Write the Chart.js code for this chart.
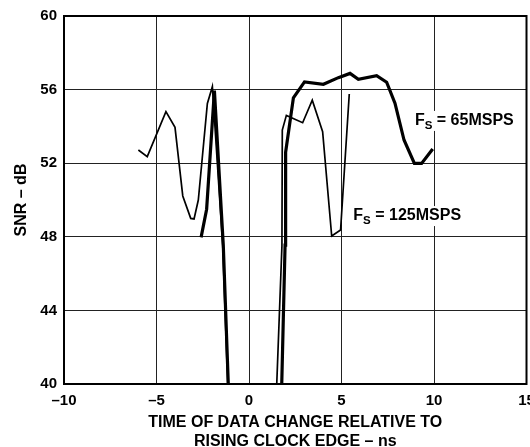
<!DOCTYPE html>
<html>
<head>
<meta charset="utf-8">
<script src="https://cdn.jsdelivr.net/npm/chart.js@4/dist/chart.umd.min.js"></script>
<style>
html, body { margin:0; padding:0; overflow:hidden; background:#fff; width:530px; height:447px; }
#wrap { position:absolute; left:0; top:0; width:560px; height:447px; }
</style>
</head>
<body>
<div id="wrap"><canvas id="c" width="560" height="447"></canvas></div>
<script>
// ---- data ----
const fs65X = [-2.59, -2.29, -1.87, -1.39, -1.12, null, 1.77, 1.95, 1.98, 2.40, 3.00, 4.02, 4.83, 5.46, 5.91, 6.90, 7.44, 7.89, 8.38, 8.94, 9.33, 9.93];
const fs65Y = [47.97, 49.50, 55.95, 47.55, 40.00, null, 40.00, 47.55, 52.60, 55.55, 56.42, 56.29, 56.65, 56.88, 56.56, 56.76, 56.40, 55.26, 53.26, 51.99, 51.99, 52.77];
const fs125X = [-5.98, -5.50, -4.49, -4.00, -3.58, -3.15, -2.97, -2.74, -2.25, -1.98, -1.42, -1.15, null, 1.50, 1.78, 1.80, 2.02, 2.90, 3.42, 3.98, 4.47, 4.95, 5.42];
const fs125Y = [52.72, 52.36, 54.80, 53.95, 50.22, 49.00, 48.97, 50.00, 55.25, 56.16, 47.50, 40.00, null, 40.00, 47.50, 53.80, 54.60, 54.20, 55.42, 53.71, 48.04, 48.37, 55.76];
const xTicks = [-10, -5, 0, 5, 10, 15];
const yTicks = [40, 44, 48, 52, 56, 60];
const seriesNames = ['65MSPS', '125MSPS'];
const labelAnchors = [[8.97, 54.08], [5.64, 48.91]];
const xTitle = ['TIME OF DATA CHANGE RELATIVE TO', 'RISING CLOCK EDGE \u2013 ns'];
const yTitle = 'SNR \u2013 dB';

function pts(xs, ys) {
  return xs.map((x, i) => (x === null ? {x: NaN, y: null} : {x: x, y: ys[i]}));
}

const FONT = '"Liberation Sans", Arial, Helvetica, sans-serif';

const annot = {
  id: 'annot',
  afterDatasetsDraw(chart) {
    const ctx = chart.ctx, xs = chart.scales.x, ys = chart.scales.y;
    ctx.save();
    seriesNames.forEach((name, i) => {
      const px = xs.getPixelForValue(labelAnchors[i][0]);
      const py = ys.getPixelForValue(labelAnchors[i][1]);
      ctx.textBaseline = 'alphabetic';
      ctx.font = 'bold 16px ' + FONT;
      const wF = ctx.measureText('F').width;
      ctx.font = 'bold 11.5px ' + FONT;
      const wS = ctx.measureText('S').width;
      ctx.font = 'bold 16px ' + FONT;
      const rest = ' = ' + name;
      const wR = ctx.measureText(rest).width;
      ctx.fillStyle = '#fff';
      ctx.fillRect(px - 2, py - 14, wF + wS + wR + 4, 20);
      ctx.fillStyle = '#000';
      ctx.fillText('F', px, py);
      ctx.font = 'bold 11.5px ' + FONT;
      ctx.fillText('S', px + wF, py + 4);
      ctx.font = 'bold 16px ' + FONT;
      ctx.fillText(rest, px + wF + wS, py);
    });
    ctx.restore();
  },
  afterDraw(chart) {
    const a = chart.chartArea, ctx = chart.ctx;
    ctx.save();
    ctx.strokeStyle = '#000';
    ctx.lineWidth = 2;
    ctx.strokeRect(a.left, a.top, a.right - a.left, a.bottom - a.top);
    ctx.restore();
  }
};

new Chart(document.getElementById('c'), {
  type: 'line',
  data: {
    datasets: [
      { label: 'FS = 65MSPS', data: pts(fs65X, fs65Y), borderColor: '#000', borderWidth: 3.2, pointRadius: 0, tension: 0, spanGaps: false, fill: false },
      { label: 'FS = 125MSPS', data: pts(fs125X, fs125Y), borderColor: '#000', borderWidth: 1.7, pointRadius: 0, tension: 0, spanGaps: false, fill: false }
    ]
  },
  options: {
    responsive: false,
    animation: false,
    events: [],
    layout: { padding: { top: 16, right: 33.5, left: 0, bottom: 0 } },
    plugins: { legend: { display: false }, tooltip: { enabled: false } },
    scales: {
      x: {
        type: 'linear', min: xTicks[0], max: xTicks[xTicks.length - 1],
        afterFit(s) { s.height = 63; },
        afterBuildTicks(s) { s.ticks = xTicks.map(v => ({ value: v })); },
        grid: { color: '#222', lineWidth: 1, drawTicks: false },
        border: { display: true, color: '#000', width: 2 },
        ticks: { color: '#000', padding: 8, maxRotation: 0, autoSkip: false,
          font: { family: FONT, size: 15, weight: 'bold' },
          callback: v => String(v).replace('-', '\u2013') },
        title: { display: true, text: xTitle, color: '#000',
          font: { family: FONT, size: 16, weight: 'bold', lineHeight: '19px' },
          padding: { top: 0, bottom: -4 } }
      },
      y: {
        type: 'linear', min: yTicks[0], max: yTicks[yTicks.length - 1],
        afterFit(s) { s.width = 64; },
        afterBuildTicks(s) { s.ticks = yTicks.map(v => ({ value: v })); },
        grid: { color: '#222', lineWidth: 1, drawTicks: false },
        border: { display: true, color: '#000', width: 2 },
        ticks: { color: '#000', padding: 7, autoSkip: false,
          font: { family: FONT, size: 15, weight: 'bold' } },
        title: { display: true, text: yTitle, color: '#000',
          font: { family: FONT, size: 16, weight: 'bold', lineHeight: 1.2 },
          padding: { top: 12.4, bottom: 0 } }
      }
    }
  },
  plugins: [annot]
});
</script>
</body>
</html>
